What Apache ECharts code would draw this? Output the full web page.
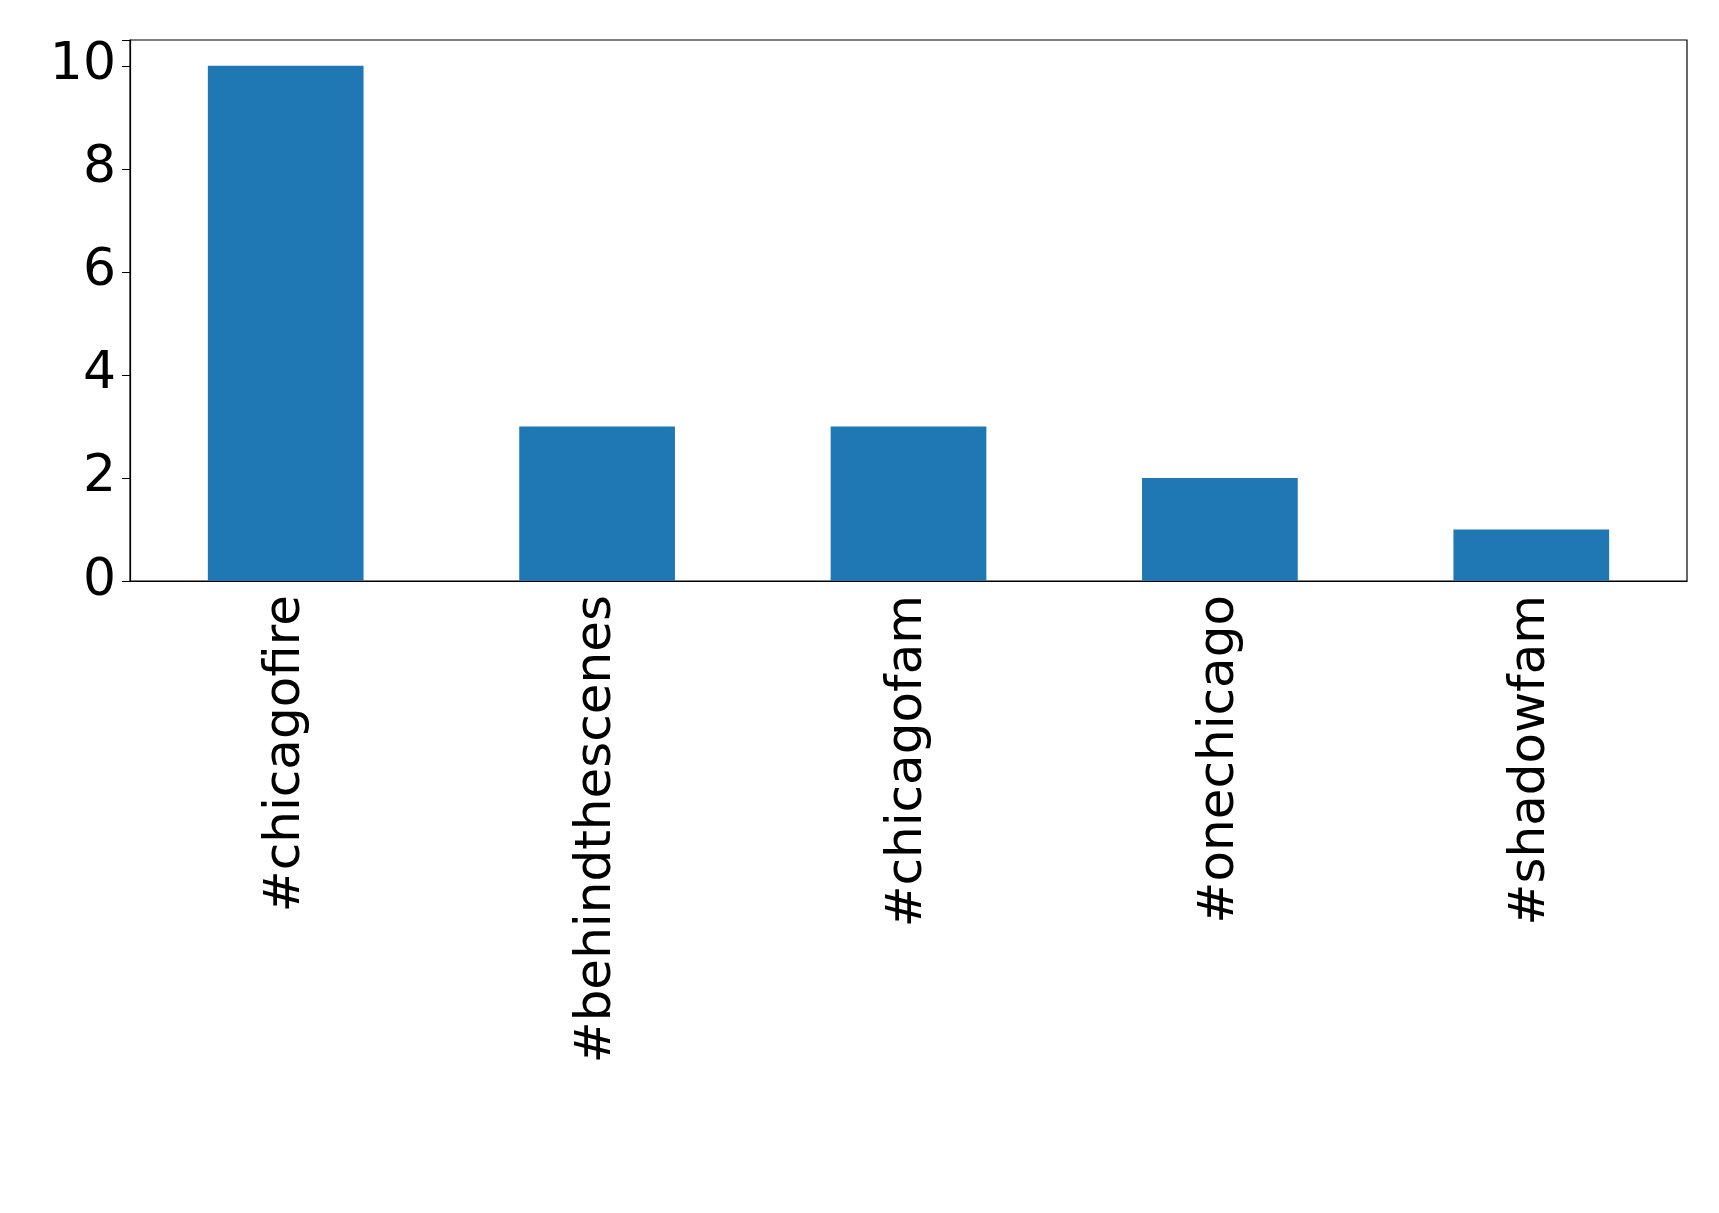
<!DOCTYPE html>
<html><head><meta charset="utf-8">
<script src="https://cdn.jsdelivr.net/npm/echarts@6/dist/echarts.min.js"></script>
<style>html,body{margin:0;padding:0;background:#fff}#c{width:1719px;height:1213px}</style>
</head><body><div id="c"></div>
<script>
const categories = ['#chicagofire','#behindthescenes','#chicagofam','#onechicago','#shadowfam'];
const values = [10,3,3,2,1];
const chart = echarts.init(document.getElementById('c'));
chart.setOption({
  animation:false,
  grid:{left:130,right:32,top:40,bottom:632,show:true,borderColor:'#000',borderWidth:1.2},
  xAxis:{type:'category',data:categories,
    axisLine:{lineStyle:{color:'#000',width:1.2}},
    axisTick:{alignWithLabel:true,length:8,lineStyle:{color:'#000'}},
    axisLabel:{rotate:90,color:'#000',fontSize:50,fontFamily:'DejaVu Sans',margin:14}},
  yAxis:{type:'value',min:0,max:10.5,interval:2,
    axisLine:{show:true,lineStyle:{color:'#000',width:1.2}},
    axisTick:{show:true,length:8,lineStyle:{color:'#000'}},
    splitLine:{show:false},
    axisLabel:{color:'#000',fontSize:52,fontFamily:'DejaVu Sans',margin:14,
      formatter:v=> (v%2===0 && v<=10)? String(v):''}},
  series:[{type:'bar',data:values,barWidth:'50%',itemStyle:{color:'#1f77b4'}}]
});
</script></body></html>
